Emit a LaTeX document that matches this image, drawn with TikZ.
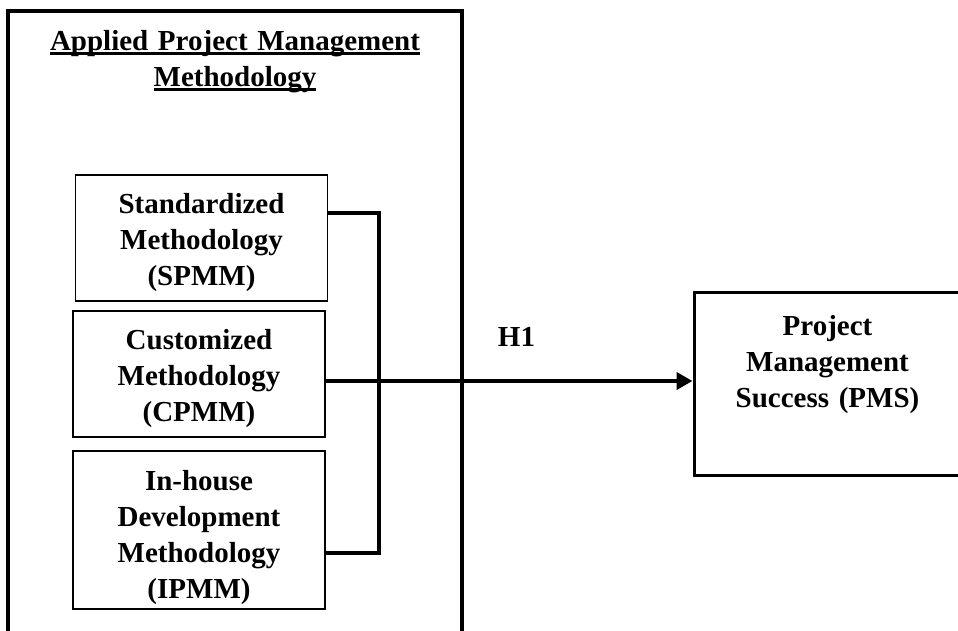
\documentclass[tikz,border=0pt]{standalone}
\usepackage{fontspec}
\setmainfont{Liberation Serif}
\usetikzlibrary{positioning,arrows.meta}
\newsavebox{\ulbox}
\newcommand{\undertext}[1]{\leavevmode\sbox{\ulbox}{#1}\rlap{\rule[-4.5pt]{\wd\ulbox}{2.2pt}}\usebox{\ulbox}}
\tikzstyle{frame} = [rectangle, draw, line width=3.5pt, outer sep=0pt,
    minimum width=454pt, minimum height=700pt, anchor=north west]
\tikzstyle{heading} = [font=\fontsize{29}{36}\selectfont\bfseries,
    text width=440pt, align=center]
\tikzstyle{block} = [rectangle, draw, line width=1.5pt, inner sep=0pt,
    font=\fontsize{29}{36}\selectfont\bfseries, text width=240pt, align=center,
    minimum width=252pt, minimum height=126pt, text height=29pt]
\tikzstyle{outcome} = [rectangle, draw, line width=3pt, inner sep=0pt,
    font=\fontsize{29}{36}\selectfont\bfseries, text width=250pt, align=center,
    minimum width=267pt, minimum height=183pt, text depth=116pt]
\tikzstyle{line} = [draw, line width=4.5pt]
\tikzstyle{arrow} = [line, -{Triangle[length=16pt,width=17pt]}]
\begin{document}
\begin{tikzpicture}[x=1pt, y=-1pt]
    \useasboundingbox (0,0) rectangle (958,630);
    % Place nodes
    \node [frame] (apmm) at (8,11) {};
    \node [heading, anchor=base] (title) at (235,50)
        {\undertext{Applied Project Management}\\\undertext{Methodology}};
    \node [block] (spmm) at (201.5,238) {Standardized\\Methodology\\(SPMM)};
    \node [block, below=8.5pt of spmm, xshift=-2.5pt] (cpmm) {Customized\\Methodology\\(CPMM)};
    \node [block, below=12.5pt of cpmm, minimum height=158pt, text height=36pt] (ipmm)
        {In-house\\Development\\Methodology\\(IPMM)};
    \node [outcome] (pms) at (827.5,383.5) {Project\\Management\\Success (PMS)};
    \coordinate (hub) at (379,381);
    % Draw edges
    \path [line] ([yshift=25pt]spmm.east) -| (hub) |- ([yshift=-23pt]ipmm.east);
    \path [arrow] ([yshift=-7pt]cpmm.east) -- node [above=29pt, pos=0.52,
        font=\fontsize{29}{36}\selectfont\bfseries] (h1) {H1} (hub -| pms.west);
\end{tikzpicture}
\end{document}
